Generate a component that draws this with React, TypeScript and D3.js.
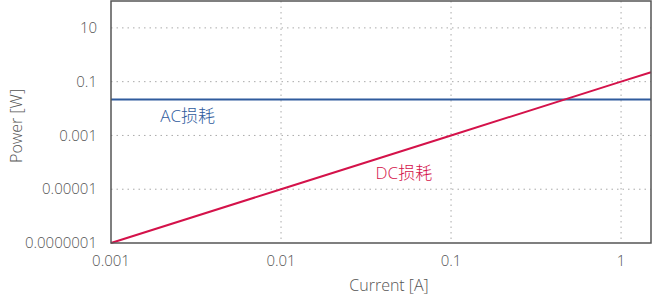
import React from "react";
import * as d3 from "d3";

const currents = [0.001, 0.01, 0.1, 1, 1.5];
const dcLoss = [1e-7, 1e-5, 1e-3, 0.1, 0.225];
const acLoss = [0.0215, 0.0215, 0.0215, 0.0215, 0.0215];
const xTicks = [0.001, 0.01, 0.1, 1];
const xTickLabels = ["0.001", "0.01", "0.1", "1"];
const yTicks = [1e-7, 1e-5, 1e-3, 0.1, 10];
const yTickLabels = ["0.0000001", "0.00001", "0.001", "0.1", "10"];

const W = 660, H = 300;
const m = { left: 111, right: 9, top: 1, bottom: 57 };
const font = "'Open Sans', 'Noto Sans CJK SC', sans-serif";

export default function App() {
  const x = d3.scaleLog().domain([0.001, 1.5]).range([m.left, W - m.right]);
  const y = d3.scaleLog().domain([1e-7, 100]).range([H - m.bottom, m.top]);
  const line = d3.line<number>().x((_, i) => x(currents[i])).y((d) => y(d));
  const x0 = m.left, x1 = W - m.right, y0 = H - m.bottom, y1 = m.top;
  return (
    <svg width={W} height={H} style={{ position: "absolute", left: 0, top: 0 }} fontFamily={font} fontWeight={300}>
      <rect width={W} height={H} fill="#fff" />
      {xTicks.slice(1).map((t) => (
        <line key={"gx" + t} x1={x(t)} x2={x(t)} y1={y1} y2={y0} stroke="#aaa" strokeWidth={1} strokeDasharray="1.5 4" />
      ))}
      {yTicks.slice(1).map((t) => (
        <line key={"gy" + t} x1={x0} x2={x1} y1={y(t)} y2={y(t)} stroke="#aaa" strokeWidth={1} strokeDasharray="1.5 4" />
      ))}
      <path d={line(acLoss) || ""} fill="none" stroke="#2f5b9d" strokeWidth={2} />
      <path d={line(dcLoss) || ""} fill="none" stroke="#d4124a" strokeWidth={2} />
      <rect x={x0} y={y1} width={x1 - x0} height={y0 - y1} fill="none" stroke="#555" strokeWidth={1.5} />
      {xTicks.map((t, i) => (
        <text key={"xt" + t} x={x(t)} y={y0 + 23} textAnchor="middle" fontSize={15} fill="#555">{xTickLabels[i]}</text>
      ))}
      {yTicks.map((t, i) => (
        <text key={"yt" + t} x={x0 - 14} y={y(t)} dy="0.35em" textAnchor="end" fontSize={15} fill="#555">{yTickLabels[i]}</text>
      ))}
      <text x={(x0 + x1) / 2 + 8} y={291} textAnchor="middle" fontSize={16} fill="#555">Current [A]</text>
      <text transform={`translate(22,${(y0 + y1) / 2 + 4}) rotate(-90)`} textAnchor="middle" fontSize={16} fill="#555">Power [W]</text>
      <text x={x(0.00195)} y={y(0.0215) + 22} fontSize={17} fill="#2f5b9d">AC损耗</text>
      <text x={x(0.036)} y={y(2.5e-5)} fontSize={17} fill="#d4124a">DC损耗</text>
    </svg>
  );
}
